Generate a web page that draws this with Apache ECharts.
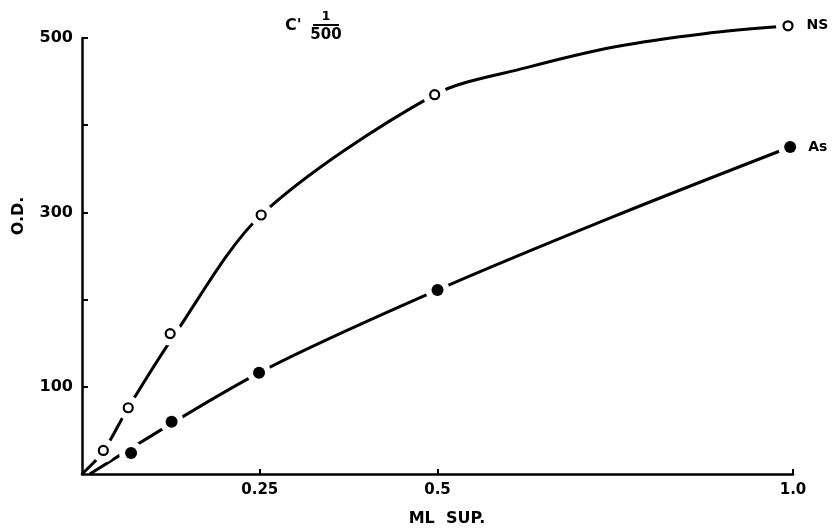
<!DOCTYPE html>
<html>
<head>
<meta charset="utf-8">
<script src="https://cdn.jsdelivr.net/npm/echarts@6/dist/echarts.min.js"></script>
<style>html,body{margin:0;padding:0;background:#fff}#c{width:836px;height:531px}</style>
</head>
<body>
<div id="c"></div>
<script>
const nsX = [0.03, 0.065, 0.124, 0.252, 0.496, 0.993];
const nsY = [27, 76, 161, 297, 435, 514];
const asX = [0.069, 0.126, 0.249, 0.5, 0.996];
const asY = [24, 60, 116, 211, 375];
// Hand-drawn fitted curves
const nsCurveX = [0, 0.03, 0.065, 0.128, 0.252, 0.496, 0.625, 0.75, 0.875, 0.993];
const nsCurveY = [0, 26, 76, 157, 297, 435, 466, 490, 505, 514];
const asCurveX = [0.011, 0.249, 0.5, 0.75, 0.996];
const asCurveY = [0, 116, 211, 296, 375];
const xTicks = [0.25, 0.5, 1.0];
const xTickLabels = ['0.25', '0.5', '1.0'];
const yTicks = [100, 200, 300, 400, 500];
const yLabels = [100, 300, 500];
const seriesNames = ['NS', 'As'];

const FONT = 'DejaVu Sans';
const zip = (xs, ys) => xs.map((x, i) => [x, ys[i]]);
const nsMk = zip(nsX, nsY);
const asMk = zip(asX, asY);

const chart = echarts.init(document.getElementById('c'), null, { renderer: 'canvas' });
chart.setOption({
  animation: false,
  backgroundColor: '#fff',
  grid: { left: 82, right: 43, top: 38, bottom: 57, containLabel: false },
  xAxis: {
    type: 'value', min: 0, max: 1,
    splitLine: { show: false },
    axisLine: { show: true, lineStyle: { color: '#000', width: 2.5 } },
    axisTick: { show: true, inside: true, length: 5, customValues: xTicks, lineStyle: { color: '#000', width: 2 } },
    axisLabel: {
      customValues: xTicks, color: '#000', fontFamily: FONT, fontWeight: 'bold', fontSize: 15, margin: 9,
      formatter: v => xTickLabels[xTicks.indexOf(v)] || ''
    }
  },
  yAxis: {
    type: 'value', min: 0, max: 500,
    splitLine: { show: false },
    axisLine: { show: true, lineStyle: { color: '#000', width: 2.5 } },
    axisTick: { show: true, inside: true, length: 6, customValues: yTicks, lineStyle: { color: '#000', width: 2 } },
    axisLabel: {
      customValues: yLabels, color: '#000', fontFamily: FONT, fontWeight: 'bold', fontSize: 16, margin: 9
    }
  },
  graphic: [
    { type: 'text', x: 19, y: 216, rotation: Math.PI / 2, style: { text: 'O.D.', font: 'bold 16px ' + FONT, fill: '#000', align: 'center', verticalAlign: 'middle' } },
    { type: 'text', x: 447, y: 519, style: { text: 'ML  SUP.', font: 'bold 16px ' + FONT, fill: '#000', align: 'center', verticalAlign: 'middle' } },
    { type: 'text', x: 285, y: 26, style: { text: "C'", font: 'bold 16px ' + FONT, fill: '#000', verticalAlign: 'middle' } },
    { type: 'text', x: 326, y: 17, style: { text: '1', font: 'bold 13px ' + FONT, fill: '#000', align: 'center', verticalAlign: 'middle' } },
    { type: 'line', shape: { x1: 313, y1: 25, x2: 339, y2: 25 }, style: { stroke: '#000', lineWidth: 2 } },
    { type: 'text', x: 326, y: 35, style: { text: '500', font: 'bold 15px ' + FONT, fill: '#000', align: 'center', verticalAlign: 'middle' } }
  ],
  series: [
    { name: seriesNames[0], type: 'line', data: zip(nsCurveX, nsCurveY), smooth: 0.3, symbol: 'none', clip: false,
      lineStyle: { color: '#000', width: 3 }, zlevel: 0, z: 1 },
    { name: seriesNames[1], type: 'line', data: zip(asCurveX, asCurveY), smooth: 0.3, symbol: 'none', clip: false,
      lineStyle: { color: '#000', width: 3 }, zlevel: 0, z: 1 },
    { type: 'scatter', data: nsMk.concat(asMk), symbol: 'circle', symbolSize: 24, clip: false, silent: true,
      itemStyle: { color: '#ffffff', opacity: 1 }, zlevel: 0, z: 20 },
    { type: 'scatter', data: nsMk, symbol: 'circle', symbolSize: 9, clip: false, itemStyle: { color: '#fff', borderColor: '#000', borderWidth: 2.2, opacity: 1 }, zlevel: 0, z: 21,
      label: { show: true, position: 'right', distance: 13, color: '#000', fontFamily: FONT, fontWeight: 'bold', fontSize: 14,
        formatter: p => p.dataIndex === nsMk.length - 1 ? seriesNames[0] : '' } },
    { type: 'scatter', data: asMk, symbol: 'circle', symbolSize: 12, clip: false, itemStyle: { color: '#000', opacity: 1 }, zlevel: 0, z: 21,
      label: { show: true, position: 'right', distance: 12, color: '#000', fontFamily: FONT, fontWeight: 'bold', fontSize: 14,
        formatter: p => p.dataIndex === asMk.length - 1 ? seriesNames[1] : '' } }
  ]
});
</script>
</body>
</html>
